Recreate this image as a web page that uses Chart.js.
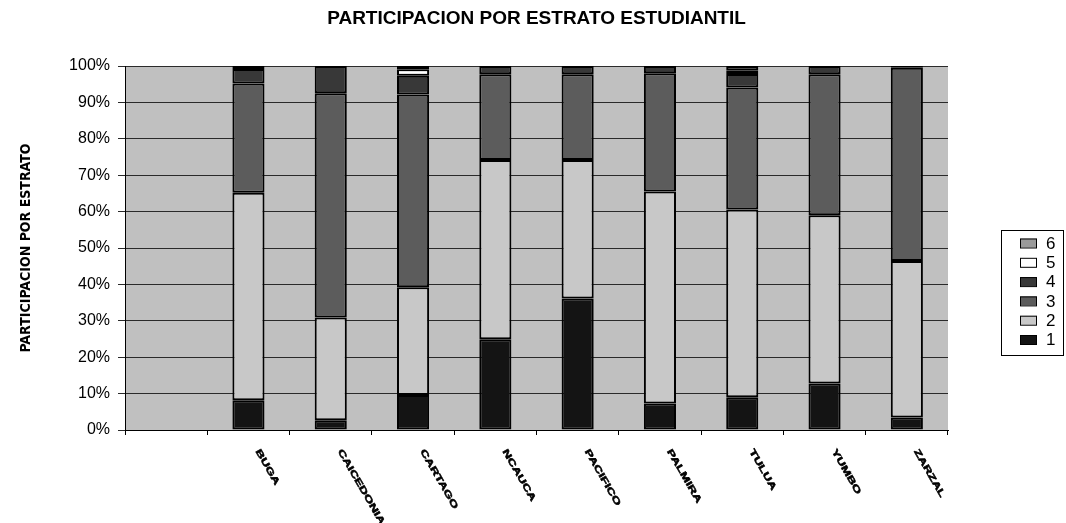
<!DOCTYPE html>
<html>
<head>
<meta charset="utf-8">
<script src="https://cdn.jsdelivr.net/npm/chart.js@4/dist/chart.umd.min.js"></script>
<style>
  html, body { margin: 0; padding: 0; background: #fff; }
  #wrap { width: 1066px; height: 523px; }
</style>
</head>
<body>
<div id="wrap"><canvas id="estratoChart"></canvas></div>
<script>
// categories (first slot is empty in the original sheet)
const categories = ["", "BUGA", "CAICEDONIA", "CARTAGO", "NCAUCA", "PACIFICO", "PALMIRA", "TULUA", "YUMBO", "ZARZAL"];
const estratoLabels = ["1", "2", "3", "4", "5", "6"];

// share of students per estrato, in %
const estrato1 = [null, 8.2, 2.7, 9.6, 24.9, 36.1, 7.3, 9.0, 12.8, 3.4];
const estrato2 = [null, 57.0, 28.2, 29.6, 49.3, 38.1, 58.2, 51.6, 46.2, 43.0];
const estrato3 = [null, 30.0, 61.6, 53.0, 23.5, 23.5, 32.5, 33.5, 38.7, 53.1];
const estrato4 = [null, 4.0, 7.5, 5.1, 2.3, 2.3, 2.0, 3.7, 2.3, 0.5];
const estrato5 = [null, 0, 0, 1.8, 0, 0, 0, 1.0, 0, 0];
const estrato6 = [null, 0.8, 0, 0.9, 0, 0, 0, 1.2, 0, 0];

const yTicks = [0, 10, 20, 30, 40, 50, 60, 70, 80, 90, 100];

const seriesColors = ["#141414", "#c8c8c8", "#5c5c5c", "#383838", "#ffffff", "#9a9a9a"];

function makeSet(label, data, color) {
  return {
    label: label,
    data: data,
    backgroundColor: color,
    borderColor: "#000",
    borderWidth: 2,
    borderSkipped: false,
    categoryPercentage: 1,
    barPercentage: 0.39,
  };
}

const plotBackground = {
  id: "plotBackground",
  beforeDraw(chart) {
    const { ctx, chartArea } = chart;
    ctx.save();
    ctx.fillStyle = "#c0c0c0";
    ctx.fillRect(chartArea.left, chartArea.top, chartArea.right - chartArea.left, chartArea.bottom - chartArea.top);
    ctx.restore();
  },
};

// slanted, squashed category names like the excel original
const slantedLabels = {
  id: "slantedLabels",
  afterDraw(chart) {
    const { ctx } = chart;
    const xScale = chart.scales.x;
    ctx.save();
    ctx.fillStyle = "#000";
    ctx.strokeStyle = "#000";
    ctx.lineWidth = 0.9;
    ctx.font = "bold 15px 'Liberation Sans', Arial, sans-serif";
    ctx.textAlign = "left";
    ctx.textBaseline = "middle";
    categories.forEach((name, i) => {
      if (!name) return;
      const x = xScale.getPixelForValue(i) + 9;
      ctx.save();
      ctx.translate(x, xScale.top + 20);
      ctx.rotate((60 * Math.PI) / 180);
      ctx.scale(0.9, 0.6);
      ctx.fillText(name, 0, 0);
      ctx.strokeText(name, 0, 0);
      ctx.restore();
    });
    ctx.restore();
  },
};

const boxedLegend = {
  id: "boxedLegend",
  afterDraw(chart) {
    const { ctx } = chart;
    const sets = chart.data.datasets.slice().reverse();
    ctx.save();
    ctx.strokeStyle = "#000";
    ctx.lineWidth = 1;
    ctx.strokeRect(1001.5, 230.5, 62, 125);
    ctx.font = "17px 'Liberation Sans', Arial, sans-serif";
    ctx.textBaseline = "middle";
    ctx.textAlign = "left";
    sets.forEach((ds, i) => {
      const cy = 243 + i * 19.3;
      ctx.fillStyle = ds.backgroundColor;
      ctx.fillRect(1020, cy - 4.5, 17, 9);
      ctx.strokeRect(1020.5, cy - 4, 16, 9);
      ctx.fillStyle = "#000";
      ctx.fillText(ds.label, 1046, cy + 1);
    });
    ctx.restore();
  },
};

new Chart("estratoChart", {
  type: "bar",
  data: {
    labels: categories,
    datasets: [
      makeSet(estratoLabels[0], estrato1, seriesColors[0]),
      makeSet(estratoLabels[1], estrato2, seriesColors[1]),
      makeSet(estratoLabels[2], estrato3, seriesColors[2]),
      makeSet(estratoLabels[3], estrato4, seriesColors[3]),
      makeSet(estratoLabels[4], estrato5, seriesColors[4]),
      makeSet(estratoLabels[5], estrato6, seriesColors[5]),
    ],
  },
  options: {
    responsive: true,
    maintainAspectRatio: false,
    animation: false,
    layout: { padding: { left: 0, right: 118, top: 0, bottom: 0 } },
    plugins: {
      legend: { display: false },
      tooltip: { enabled: false },
      title: {
        display: true,
        fullSize: false,
        text: "PARTICIPACION POR ESTRATO ESTUDIANTIL",
        color: "#000",
        font: { family: "'Liberation Sans', Arial, sans-serif", size: 19, weight: "bold" },
        padding: { top: 7, bottom: 36.2 },
      },
    },
    scales: {
      x: {
        stacked: true,
        afterFit: (s) => { s.height = 93; },
        border: { color: "#000", width: 1 },
        grid: { offset: true, drawOnChartArea: false, color: "#000", tickLength: 5 },
        ticks: { display: false },
      },
      y: {
        stacked: true,
        min: 0,
        max: 100,
        afterFit: (s) => { s.width = 125; },
        afterBuildTicks: (s) => { s.ticks = yTicks.map((v) => ({ value: v })); },
        border: { color: "#000", width: 1 },
        grid: { color: "#2a2a2a", lineWidth: 1, tickLength: 7 },
        ticks: {
          color: "#000",
          padding: 8,
          font: { family: "'Liberation Sans', Arial, sans-serif", size: 16 },
          callback: (v) => v + "%",
        },
        title: {
          display: true,
          text: "PARTICIPACION POR ESTRATO",
          color: "#000",
          font: { family: "'Liberation Sans Narrow', 'DejaVu Sans Condensed', sans-serif", size: 14, weight: "bold" },
          padding: { top: 17.6, bottom: 0 },
        },
      },
    },
  },
  plugins: [plotBackground, slantedLabels, boxedLegend],
});
</script>
</body>
</html>
